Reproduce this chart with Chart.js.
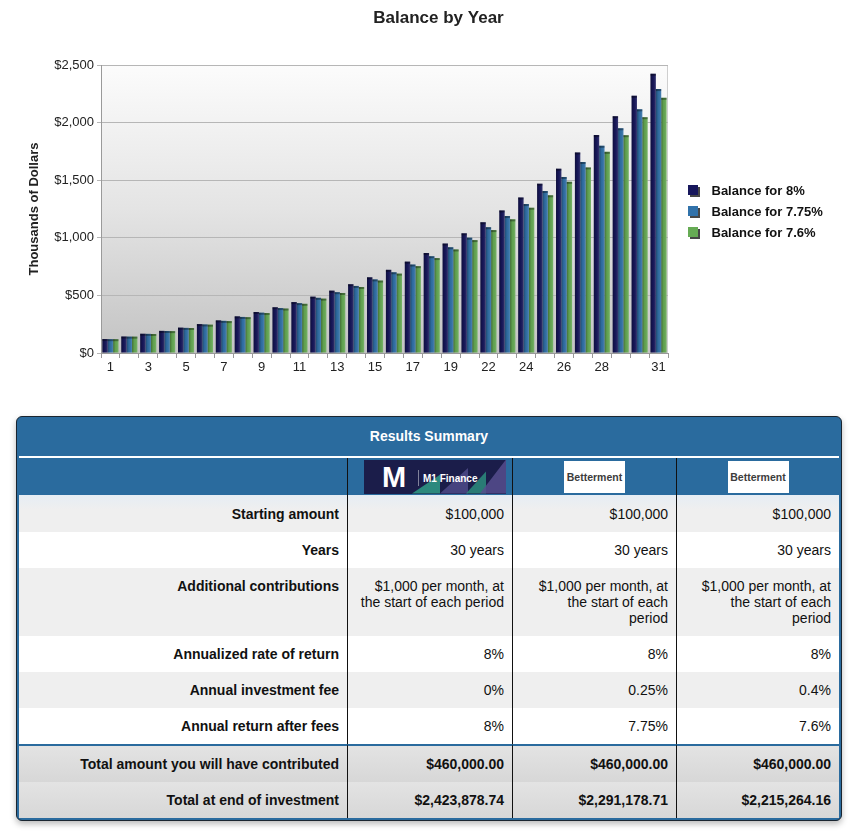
<!DOCTYPE html>
<html>
<head>
<meta charset="utf-8">
<title>Balance by Year</title>
<script src="https://cdn.jsdelivr.net/npm/chart.js@4.4.1/dist/chart.umd.min.js"></script>
<style>
html,body{margin:0;padding:0;background:#fff;}
body{width:860px;height:839px;position:relative;overflow:hidden;font-family:"Liberation Sans",Arial,Helvetica,sans-serif;color:#111;}
#wrap{position:absolute;left:0;top:0;width:860px;height:390px;}
.box{position:absolute;left:16px;top:416px;width:824px;border:1px solid #1a2530;border-radius:6px;background:#2a6b9e;box-shadow:0 3px 6px rgba(0,0,0,0.28);overflow:hidden;padding-bottom:2px;}
.hdr{height:39px;line-height:39px;text-align:center;color:#fff;font-weight:bold;font-size:14px;}
.wline{height:2px;margin:0 2px;background:#fff;}
table{width:820px;margin:0 2px;border-collapse:separate;border-spacing:0;table-layout:fixed;font-size:14px;}
td{box-sizing:border-box;padding:0 8px 0 8px;text-align:right;vertical-align:middle;white-space:nowrap;line-height:16px;}
td+td{border-left:1px solid #111;}
td.lab{font-weight:bold;}
tr.g td{background:#efefef;}
tr.w td{background:#fff;}
tr.first td{background:linear-gradient(#e6edf4,#efefef 40%);}
tr.t td{background:linear-gradient(#e3e3e3,#d7d7d7);font-weight:bold;}
tr.t1 td{border-top:2px solid #2a6b9e;}
tr.tall td{vertical-align:top;padding-top:10px;}
tr.logos td{text-align:center;padding:0;}
.m1{position:relative;width:142px;height:34px;background:#1b1d4a;margin-left:16px;overflow:hidden;text-align:left;}
.m1 .mbig{position:absolute;z-index:2;left:18px;top:3px;font-weight:900;font-size:29px;line-height:29px;color:#fff;}
.m1 .vl{position:absolute;z-index:2;left:54px;top:10px;width:1px;height:16px;background:rgba(255,255,255,0.45);}
.m1 .m1t{position:absolute;z-index:2;left:59px;top:13px;font-weight:bold;font-size:10px;line-height:12px;color:#fff;}
.m1 i{position:absolute;z-index:1;top:0;height:34px;display:block;}
.bt{display:inline-block;width:61px;height:32px;background:#fff;color:#3c3c3c;font-weight:bold;font-size:10.5px;line-height:32px;text-align:center;vertical-align:middle;}
</style>
</head>
<body>
<div id="wrap"><canvas id="c"></canvas></div>

<div class="box">
  <div class="hdr">Results Summary</div>
  <div class="wline"></div>
  <table>
    <tr class="logos" style="height:37px">
      <td style="width:328px;height:37px"></td>
      <td style="width:165px;text-align:left"><div class="m1"><span class="mbig">M</span><span class="vl"></span><span class="m1t">M1 Finance</span>
        <i style="left:48px;width:28px;background:#2f9c86;clip-path:polygon(0 100%,100% 45%,100% 100%);opacity:.85"></i>
        <i style="left:76px;width:28px;background:#4d4a88;clip-path:polygon(0 100%,100% 25%,100% 100%);opacity:.85"></i>
        <i style="left:102px;width:20px;background:#2b8c7c;clip-path:polygon(0 100%,100% 35%,100% 100%);opacity:.85"></i>
        <i style="left:116px;width:26px;background:#564d8e;clip-path:polygon(0 100%,100% 0,100% 100%);opacity:.85"></i>
      </div></td>
      <td style="width:164px"><span class="bt">Betterment</span></td>
      <td style="width:163px"><span class="bt">Betterment</span></td>
    </tr>
    <tr class="g first" style="height:37px"><td class="lab">Starting amount</td><td>$100,000</td><td>$100,000</td><td>$100,000</td></tr>
    <tr class="w" style="height:36px"><td class="lab">Years</td><td>30 years</td><td>30 years</td><td>30 years</td></tr>
    <tr class="g tall" style="height:68px"><td class="lab">Additional contributions</td><td>$1,000 per month, at<br>the start of each period</td><td>$1,000 per month, at<br>the start of each<br>period</td><td>$1,000 per month, at<br>the start of each<br>period</td></tr>
    <tr class="w" style="height:36px"><td class="lab">Annualized rate of return</td><td>8%</td><td>8%</td><td>8%</td></tr>
    <tr class="g" style="height:36px"><td class="lab">Annual investment fee</td><td>0%</td><td>0.25%</td><td>0.4%</td></tr>
    <tr class="w" style="height:36px"><td class="lab">Annual return after fees</td><td>8%</td><td>7.75%</td><td>7.6%</td></tr>
    <tr class="t t1" style="height:38px"><td class="lab">Total amount you will have contributed</td><td>$460,000.00</td><td>$460,000.00</td><td>$460,000.00</td></tr>
    <tr class="t" style="height:36px"><td class="lab">Total at end of investment</td><td>$2,423,878.74</td><td>$2,291,178.71</td><td>$2,215,264.16</td></tr>
  </table>
</div>

<script>
// ---- data ----
const categories = ['1','2','3','4','5','6','7','8','9','10','11','12','13','14','15','16','17','18','19',
                    '21','22','23','24','25','26','27','28','29','30','31'];
const shownTickLabels = ['1','3','5','7','9','11','13','15','17','19','22','24','26','28','31'];
const seriesNames = ['Balance for 8%','Balance for 7.75%','Balance for 7.6%'];
// balances in thousands of dollars
const balance8   = [121,143,167,192,220,251,283,318,356,397,442,489,541,597,657,722,793,868,950,1039,1135,1238,1350,1470,1600,1741,1892,2056,2233,2424];
const balance775 = [120,142,166,191,218,248,279,313,350,390,433,479,528,582,639,701,768,840,918,1001,1092,1189,1293,1406,1528,1658,1799,1951,2115,2291];
const balance76  = [120,142,165,190,217,246,277,311,347,386,427,472,521,573,629,689,754,824,899,980,1067,1160,1261,1369,1486,1611,1746,1891,2047,2215];
const yMin = 0, yMax = 2500, yStep = 500;

// ---- styles ----
const seriesColors = ['#17175c','#3172aa','#66ab54'];

Chart.defaults.font.family = '"Liberation Sans", Arial, Helvetica, sans-serif';

function makeMarker(color) {
  const c = document.createElement('canvas');
  c.width = 12; c.height = 12;
  const x = c.getContext('2d');
  x.fillStyle = 'rgba(25,25,25,0.8)';
  x.fillRect(2, 2, 10, 10);
  x.fillStyle = color;
  x.fillRect(0, 0, 10, 10);
  return c;
}
const markers = seriesColors.map(makeMarker);

const plotBg = {
  id: 'plotBg',
  beforeDraw(chart) {
    const {ctx, chartArea: a} = chart;
    if (!a) return;
    const g = ctx.createLinearGradient(0, a.top, 0, a.bottom);
    g.addColorStop(0, '#fcfcfc');
    g.addColorStop(0.5, '#e4e4e4');
    g.addColorStop(1, '#c3c3c3');
    ctx.save();
    ctx.fillStyle = g;
    ctx.fillRect(a.left, a.top, a.right - a.left, a.bottom - a.top);
    ctx.strokeStyle = '#cfcfcf';
    ctx.lineWidth = 1;
    ctx.beginPath();
    ctx.moveTo(a.left, a.top + 0.5);
    ctx.lineTo(a.right - 0.5, a.top + 0.5);
    ctx.lineTo(a.right - 0.5, a.bottom);
    ctx.stroke();
    ctx.restore();
  }
};

const barShade = {
  id: 'barShade',
  afterDatasetsDraw(chart) {
    const ctx = chart.ctx;
    chart.data.datasets.forEach((ds, i) => {
      const meta = chart.getDatasetMeta(i);
      meta.data.forEach(el => {
        const p = el.getProps(['x','y','base','width'], true);
        const x0 = p.x - p.width / 2;
        const h = p.base - p.y;
        const g = ctx.createLinearGradient(x0, 0, x0 + p.width, 0);
        g.addColorStop(0, 'rgba(0,0,0,0.35)');
        g.addColorStop(0.45, 'rgba(0,0,0,0.06)');
        g.addColorStop(1, 'rgba(255,255,255,0.14)');
        ctx.save();
        ctx.fillStyle = g;
        ctx.fillRect(x0, p.y, p.width, h);
        ctx.fillStyle = 'rgba(0,0,0,0.35)';
        ctx.fillRect(x0, p.y, p.width, 2);
        ctx.restore();
      });
    });
  }
};

const legendWidth = {
  id: 'legendWidth',
  afterInit(chart) {
    const lg = chart.legend;
    if (!lg) return;
    const f = lg.fit.bind(lg);
    lg.fit = function () { f(); this.width = 179; };
  }
};

const datasets = [balance8, balance775, balance76].map((vals, i) => ({
  label: seriesNames[i],
  data: vals,
  backgroundColor: seriesColors[i],
  borderWidth: 0,
  categoryPercentage: 0.85,
  barPercentage: 1.0
}));

new Chart(document.getElementById('c'), {
  type: 'bar',
  data: { labels: categories, datasets },
  options: {
    responsive: true,
    maintainAspectRatio: false,
    animation: false,
    devicePixelRatio: 1,
    layout: { padding: { left: 23, right: 6, top: 0, bottom: 0 } },
    plugins: {
      title: {
        display: true,
        text: 'Balance by Year',
        color: '#222',
        font: { size: 17, weight: 'bold' },
        padding: { top: 8, bottom: 36.6 }
      },
      legend: {
        display: true,
        position: 'right',
        align: 'center',
        title: { display: true, text: ' ', font: { size: 10 }, padding: { top: 0, bottom: 22 } },
        labels: {
          usePointStyle: true,
          pointStyleWidth: 22,
          boxWidth: 9, boxHeight: 9, padding: 8,
          color: '#111',
          font: { size: 13, weight: 'bold' },
          generateLabels(chart) {
            return chart.data.datasets.map((ds, i) => ({
              text: ds.label,
              pointStyle: markers[i],
              fillStyle: ds.backgroundColor,
              strokeStyle: ds.backgroundColor,
              lineWidth: 0,
              hidden: false,
              datasetIndex: i,
              fontColor: '#111'
            }));
          }
        }
      },
      tooltip: { enabled: false }
    },
    scales: {
      x: {
        offset: true,
        grid: { offset: true, drawOnChartArea: false, drawTicks: true, tickLength: 5, color: '#999' },
        border: { color: '#999' },
        ticks: {
          autoSkip: false, maxRotation: 0, minRotation: 0,
          color: '#222', font: { size: 13 }, padding: 2,
          callback(v, i) { const l = categories[i]; return shownTickLabels.includes(l) ? l : ''; }
        },
        afterFit(s) { s.height = 37; }
      },
      y: {
        position: 'left',
        min: yMin, max: yMax,
        ticks: {
          stepSize: yStep, color: '#222', font: { size: 13 }, padding: 3,
          callback: v => '$' + Number(v).toLocaleString('en-US')
        },
        grid: { color: '#b6b6b6', tickLength: 4 },
        border: { color: '#9a9a9a' },
        title: {
          display: true, text: 'Thousands of Dollars', color: '#222',
          font: { size: 13, weight: 'bold' }, padding: { top: 4, bottom: 4 }
        },
        afterFit(s) { s.width = 78; }
      },
      gap: {
        type: 'linear', position: 'right', display: true,
        grid: { display: false }, border: { display: false }, ticks: { display: false },
        afterFit(s) { s.width = 7; }
      }
    }
  },
  plugins: [plotBg, barShade, legendWidth]
});
</script>
</body>
</html>
